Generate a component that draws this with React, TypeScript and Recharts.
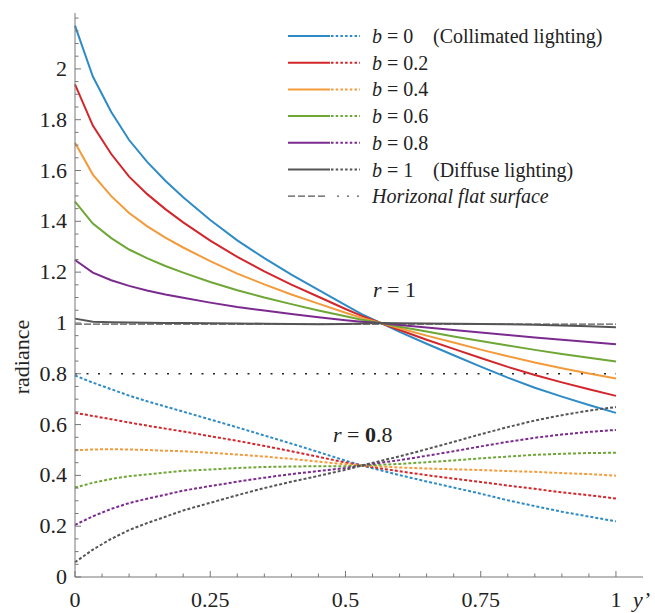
import { LineChart, Line, XAxis, YAxis, ReferenceLine } from 'recharts'

const FONT = "'Liberation Serif', 'Times New Roman', Times, serif"
const TXT = { fontFamily: FONT }

// y' positions of the sampled points
const xs = [0, 0.033, 0.067, 0.1, 0.133, 0.167, 0.2, 0.25, 0.3, 0.35, 0.4, 0.45, 0.5, 0.53, 0.565, 0.6, 0.65, 0.7, 0.75, 0.8, 0.85, 0.9, 0.95, 1]

// r = 1 (solid lines)
const r1b0 = [2.17, 1.97, 1.83, 1.72, 1.635, 1.56, 1.495, 1.405, 1.325, 1.255, 1.19, 1.13, 1.07, 1.035, 1.0, 0.965, 0.918, 0.873, 0.828, 0.785, 0.745, 0.71, 0.677, 0.646]
const r1b02 = [1.939, 1.777, 1.665, 1.576, 1.508, 1.448, 1.396, 1.324, 1.26, 1.203, 1.151, 1.103, 1.055, 1.028, 1.0, 0.972, 0.934, 0.898, 0.862, 0.827, 0.795, 0.766, 0.739, 0.713]
const r1b04 = [1.709, 1.584, 1.499, 1.433, 1.381, 1.336, 1.297, 1.243, 1.194, 1.152, 1.112, 1.076, 1.04, 1.02, 1.0, 0.979, 0.95, 0.923, 0.895, 0.869, 0.844, 0.822, 0.801, 0.781]
const r1b06 = [1.478, 1.391, 1.334, 1.289, 1.255, 1.224, 1.198, 1.161, 1.129, 1.1, 1.074, 1.049, 1.026, 1.013, 1.0, 0.985, 0.966, 0.947, 0.929, 0.911, 0.894, 0.878, 0.863, 0.848]
const r1b08 = [1.248, 1.198, 1.168, 1.146, 1.128, 1.112, 1.099, 1.08, 1.063, 1.049, 1.035, 1.022, 1.011, 1.005, 1.0, 0.992, 0.982, 0.972, 0.962, 0.953, 0.943, 0.934, 0.925, 0.916]
const r1b1 = [1.017, 1.005, 1.003, 1.002, 1.001, 1.0, 1.0, 0.999, 0.998, 0.997, 0.996, 0.995, 0.996, 0.998, 1.0, 0.999, 0.998, 0.997, 0.996, 0.995, 0.993, 0.99, 0.987, 0.983]

// r = 0.8 (dotted lines)
const r08b0 = [0.793, 0.765, 0.739, 0.714, 0.692, 0.671, 0.651, 0.62, 0.589, 0.557, 0.525, 0.492, 0.458, 0.439, 0.42, 0.401, 0.376, 0.352, 0.328, 0.302, 0.279, 0.257, 0.238, 0.219]
const r08b02 = [0.646, 0.634, 0.621, 0.608, 0.596, 0.584, 0.573, 0.554, 0.536, 0.516, 0.495, 0.473, 0.451, 0.439, 0.427, 0.416, 0.401, 0.387, 0.374, 0.36, 0.347, 0.333, 0.322, 0.309]
const r08b04 = [0.499, 0.502, 0.503, 0.502, 0.5, 0.497, 0.495, 0.489, 0.482, 0.474, 0.465, 0.454, 0.444, 0.439, 0.435, 0.431, 0.427, 0.424, 0.421, 0.417, 0.414, 0.409, 0.405, 0.399]
const r08b06 = [0.352, 0.371, 0.386, 0.397, 0.404, 0.411, 0.418, 0.423, 0.429, 0.433, 0.435, 0.436, 0.436, 0.439, 0.442, 0.445, 0.452, 0.459, 0.467, 0.474, 0.481, 0.485, 0.488, 0.489]
const r08b08 = [0.205, 0.239, 0.268, 0.291, 0.308, 0.324, 0.34, 0.358, 0.375, 0.391, 0.405, 0.417, 0.429, 0.439, 0.45, 0.46, 0.477, 0.495, 0.514, 0.532, 0.548, 0.561, 0.571, 0.579]
const r08b1 = [0.058, 0.108, 0.15, 0.185, 0.212, 0.237, 0.262, 0.292, 0.322, 0.35, 0.375, 0.398, 0.422, 0.439, 0.457, 0.475, 0.503, 0.532, 0.562, 0.59, 0.616, 0.637, 0.655, 0.669]

const bLabels = ['0', '0.2', '0.4', '0.6', '0.8', '1']
const bNotes = ['(Collimated lighting)', '', '', '', '', '(Diffuse lighting)']
const colors = ['#2f8bc6', '#d3262b', '#f39a3a', '#6fa736', '#7b2a8f', '#555555']
const solidSeries = [r1b0, r1b02, r1b04, r1b06, r1b08, r1b1]
const dottedSeries = [r08b0, r08b02, r08b04, r08b06, r08b08, r08b1]
const flatLevels = [0.995, 0.8]

const xMajor = [0, 0.25, 0.5, 0.75, 1]
const yMajor = [0, 0.2, 0.4, 0.6, 0.8, 1, 1.2, 1.4, 1.6, 1.8, 2]
const xTicks = Array.from({ length: 21 }, (_, i) => +(i * 0.05).toFixed(2))
const yTicks = Array.from({ length: 45 }, (_, i) => +(i * 0.05).toFixed(2))

const data = xs.map((x, i) => {
  const row: Record<string, number> = { x }
  solidSeries.forEach((s, k) => (row[`s${k}`] = s[i]))
  dottedSeries.forEach((s, k) => (row[`d${k}`] = s[i]))
  return row
})

const isMajor = (list: number[], v: number) => list.some((m) => Math.abs(m - v) < 1e-6)
const fmt = (v: number) => String(Number(v.toFixed(2)))

function XTick({ x, y, payload }: any) {
  const major = isMajor(xMajor, payload.value)
  return (
    <g>
      <line x1={x} x2={x} y1={y} y2={y - (major ? 6 : 3.5)} stroke="#777" />
      {major && (
        <text x={x} y={y + 30} textAnchor="middle" style={TXT} fontSize={22} fill="#222">
          {fmt(payload.value)}
        </text>
      )}
    </g>
  )
}

function YTick({ x, y, payload }: any) {
  const major = isMajor(yMajor, payload.value)
  return (
    <g>
      <line x1={x} x2={x + (major ? 6 : 3.5)} y1={y} y2={y} stroke="#777" />
      {major && (
        <text x={x - 8} y={y + 7} textAnchor="end" style={TXT} fontSize={22} fill="#222">
          {fmt(payload.value)}
        </text>
      )}
    </g>
  )
}

function Overlay() {
  const rowY = (i: number) => 36 + i * 26.7
  return (
    <svg width={655} height={613} style={{ position: 'absolute', left: 0, top: 0, pointerEvents: 'none' }}>
      <g style={TXT} fill="#222">
        {bLabels.map((b, i) => (
          <g key={b}>
            <line x1={288} x2={330} y1={rowY(i)} y2={rowY(i)} stroke={colors[i]} strokeWidth={2} />
            <line x1={331} x2={360} y1={rowY(i)} y2={rowY(i)} stroke={colors[i]} strokeWidth={2} strokeDasharray="2.5 2.2" />
            <text x={372} y={rowY(i) + 7} fontSize={20} style={TXT}>
              <tspan fontStyle="italic">b</tspan> = {b}
            </text>
            {bNotes[i] && (
              <text x={433} y={rowY(i) + 7} fontSize={20} style={TXT}>
                {bNotes[i]}
              </text>
            )}
          </g>
        ))}
        <line x1={288} x2={327} y1={rowY(6)} y2={rowY(6)} stroke="#555" strokeWidth={1.3} strokeDasharray="7 3" />
        <line x1={337} x2={362} y1={rowY(6)} y2={rowY(6)} stroke="#555" strokeWidth={1.3} strokeDasharray="2 8" />
        <text x={372} y={rowY(6) + 7} fontSize={20} fontStyle="italic" style={TXT}>
          Horizonal flat surface
        </text>

        <text x={373} y={297} fontSize={22} style={TXT}>
          <tspan fontStyle="italic">r</tspan> = 1
        </text>
        <text x={333} y={442} fontSize={22} style={TXT}>
          <tspan fontStyle="italic">r</tspan> = <tspan fontWeight="bold">0</tspan>.8
        </text>

        <text x={0} y={0} fontSize={22} textAnchor="middle" transform="translate(29 357) rotate(-90)" style={TXT}>
          radiance
        </text>
        <text x={633} y={607} fontSize={22} fontStyle="italic" style={TXT}>
          y’
        </text>
      </g>
    </svg>
  )
}

export default function App() {
  return (
    <div style={{ position: 'absolute', left: 0, top: 0, width: 655, height: 613, background: '#fff' }}>
      <LineChart width={655} height={613} data={data} margin={{ top: 13, right: 12, bottom: 0, left: 0 }}>
        <XAxis
          dataKey="x"
          type="number"
          domain={[0, 1.05]}
          ticks={xTicks}
          interval={0}
          height={36}
          tickLine={false}
          tickSize={0}
          tickMargin={0}
          axisLine={{ stroke: '#777' }}
          tick={<XTick />}
        />
        <YAxis
          type="number"
          domain={[0, 2.22]}
          ticks={yTicks}
          interval={0}
          width={75}
          tickLine={false}
          tickSize={0}
          tickMargin={0}
          axisLine={{ stroke: '#777' }}
          tick={<YTick />}
        />
        <ReferenceLine
          segment={[{ x: 0, y: flatLevels[0] }, { x: 1, y: flatLevels[0] }]}
          stroke="#555"
          strokeWidth={1.3}
          strokeDasharray="7 2"
        />
        <ReferenceLine
          segment={[{ x: 0, y: flatLevels[1] }, { x: 1, y: flatLevels[1] }]}
          stroke="#222"
          strokeWidth={1.3}
          strokeDasharray="2 9.5"
        />
        {colors.map((c, k) => (
          <Line
            key={`s${k}`}
            type="linear"
            dataKey={`s${k}`}
            stroke={c}
            strokeWidth={2}
            dot={false}
            isAnimationActive={false}
          />
        ))}
        {colors.map((c, k) => (
          <Line
            key={`d${k}`}
            type="linear"
            dataKey={`d${k}`}
            stroke={c}
            strokeWidth={2}
            strokeDasharray="3 2"
            dot={false}
            isAnimationActive={false}
          />
        ))}
      </LineChart>
      <Overlay />
    </div>
  )
}
